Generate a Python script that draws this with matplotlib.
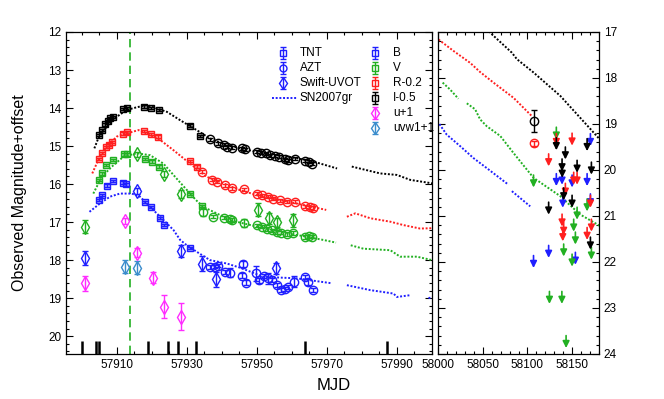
import numpy as np
import matplotlib.pyplot as plt
from matplotlib.colors import to_rgba
from matplotlib.ticker import MultipleLocator, FormatStrFormatter

plt.rcParams["font.family"] = ["Liberation Sans", "DejaVu Sans"]

cB, cV, cR, cI = "#1f1fff", "#22b022", "#ff1f1f", "#000000"
cu, cw = "#ff2cff", "#3a8ccc"

# ---- TNT (squares) ----
tnt_B_t = [57905.0, 57905.8, 57907.1, 57908.8, 57911.7, 57912.6, 57918.1, 57919.8, 57922.2, 57923.4, 57930.9]
tnt_B_m = [16.42, 16.29, 16.04, 15.92, 15.96, 16.01, 16.47, 16.60, 16.90, 17.08, 17.68]
tnt_V_t = [57905.0, 57905.8, 57906.9, 57908.8, 57912.2, 57912.8, 57918.1, 57920.1, 57922.0, 57930.9, 57934.3]
tnt_V_m = [15.90, 15.72, 15.50, 15.37, 15.22, 15.22, 15.34, 15.41, 15.54, 16.26, 16.58]
tnt_R_t = [57905.0, 57905.8, 57906.9, 57907.7, 57908.6, 57911.9, 57912.8, 57917.9, 57919.8, 57921.7, 57930.9, 57932.8]
tnt_R_m = [15.35, 15.19, 15.02, 14.96, 14.89, 14.67, 14.64, 14.61, 14.69, 14.75, 15.40, 15.54]
tnt_I_t = [57905.0, 57905.8, 57906.7, 57907.4, 57908.1, 57908.8, 57911.9, 57912.8, 57917.9, 57919.8, 57922.0, 57930.9, 57933.8]
tnt_I_m = [14.71, 14.58, 14.43, 14.34, 14.27, 14.23, 14.03, 14.01, 13.96, 13.99, 14.05, 14.46, 14.74]

# ---- AZT (circles) ----
azt_B_t = [57936.6, 57938.0, 57939.0, 57940.9, 57942.4, 57945.7, 57945.9, 57946.9, 57949.8, 57950.7, 57951.9,
           57953.3, 57954.3, 57955.7, 57956.8, 57957.9, 57959.0, 57960.5, 57963.8, 57964.7, 57966.0]
azt_B_m = [18.18, 18.17, 18.15, 18.31, 18.33, 18.41, 18.11, 18.59, 18.35, 18.53, 18.42,
           18.48, 18.53, 18.66, 18.79, 18.76, 18.70, 18.57, 18.44, 18.57, 18.79]
azt_B_e = [0.05, 0.04, 0.04, 0.05, 0.12, 0.06, 0.08, 0.06, 0.20, 0.06, 0.05,
           0.15, 0.05, 0.05, 0.06, 0.05, 0.05, 0.15, 0.05, 0.08, 0.05]
azt_V_t = [57934.7, 57937.6, 57940.5, 57942.4, 57942.8, 57946.2, 57950.0, 57951.4, 57952.8, 57954.3, 57955.7,
           57957.0, 57958.5, 57960.4, 57963.8, 57965.0, 57965.7]
azt_V_m = [16.73, 16.86, 16.88, 16.92, 16.95, 17.02, 17.08, 17.12, 17.19, 17.22, 17.26,
           17.28, 17.32, 17.29, 17.40, 17.37, 17.39]
azt_V_e = [0.10, 0.04, 0.05, 0.04, 0.05, 0.10, 0.04, 0.04, 0.05, 0.04, 0.05,
           0.04, 0.05, 0.05, 0.05, 0.04, 0.04]
azt_R_t = [57934.3, 57937.1, 57938.5, 57940.9, 57942.8, 57946.2, 57950.0, 57951.4, 57953.3, 57954.7, 57956.6,
           57958.5, 57960.9, 57963.8, 57965.2, 57966.0, 58106.8]
azt_R_m = [15.68, 15.88, 15.94, 16.03, 16.11, 16.14, 16.25, 16.29, 16.33, 16.38, 16.42,
           16.47, 16.47, 16.58, 16.61, 16.63, 19.42]
azt_R_e = [0.04] * 16 + [0.05]
azt_I_t = [57936.6, 57939.0, 57940.5, 57941.6, 57942.8, 57945.7, 57946.6, 57950.0, 57951.1, 57952.6, 57953.8,
           57955.2, 57956.2, 57958.1, 57959.0, 57960.9, 57963.8, 57965.0, 57965.7, 58106.8]
azt_I_m = [14.82, 14.93, 14.97, 15.02, 15.04, 15.06, 15.09, 15.15, 15.18, 15.19, 15.24,
           15.26, 15.28, 15.35, 15.37, 15.33, 15.39, 15.41, 15.46, 18.94]
azt_I_e = [0.04] * 19 + [0.24]

# ---- Swift-UVOT (diamonds) ----
uv_B_t = [57901.0, 57915.7, 57928.4, 57934.3, 57938.3, 57955.5]
uv_B_m = [17.94, 16.18, 17.76, 18.09, 18.50, 18.22]
uv_B_e = [0.19, 0.08, 0.15, 0.20, 0.20, 0.15]
uv_V_t = [57901.0, 57915.7, 57923.4, 57928.2, 57950.3, 57953.6, 57955.7, 57960.4]
uv_V_m = [17.12, 15.22, 15.74, 16.26, 16.68, 16.90, 17.00, 16.95]
uv_V_e = [0.17, 0.07, 0.08, 0.10, 0.17, 0.15, 0.12, 0.17]
uv_u_t = [57901.0, 57912.4, 57915.8, 57920.3, 57923.4, 57928.2]
uv_u_m = [18.61, 16.97, 17.81, 18.46, 19.23, 19.49]
uv_u_e = [0.20, 0.08, 0.12, 0.15, 0.30, 0.35]
uv_w_t = [57912.4, 57915.8]
uv_w_m = [18.18, 18.20]
uv_w_e = [0.17, 0.17]

# ---- SN2007gr templates (NaN = gap) ----
tpl_I_t = [57903.6, 57904.7, 57907.1, 57910.0, 57912.8, 57915.7, 57918.6, 57921.4, 57924.3, 57928.1, 57932.8,
           57936.6, 57941.4, 57945.2, 57951.9, 57961.4, 57966.2, 57972.9, np.nan, 57977.1, 57985.2, 57990.0,
           57993.8, 58000.0, 58056.4, 58082.6, 58088.2, 58106.8, 58136.8, 58177.9, 58182.0]
tpl_I_m = [15.06, 14.80, 14.49, 14.23, 14.05, 13.98, 13.92, 14.01, 14.10, 14.32, 14.58,
           14.80, 14.97, 15.06, 15.19, 15.32, 15.41, 15.59, np.nan, 15.54, 15.72, 15.76,
           15.89, 15.98, 16.98, 17.45, 17.59, 17.88, 18.39, 19.27, 19.36]
tpl_R_t = [57903.0, 57904.7, 57907.1, 57910.0, 57912.8, 57916.2, 57918.6, 57922.4, 57926.2, 57930.9, 57935.7,
           57940.4, 57945.2, 57950.0, 57956.6, 57963.3, 57969.8, np.nan, 57975.7, 57978.1, 57982.4, 57988.1,
           57991.9, 57996.6, 58000.4, 58017.2, 58035.9, 58047.1, 58062.0, 58084.4, 58105.0]
tpl_R_m = [15.72, 15.37, 15.02, 14.75, 14.67, 14.58, 14.67, 14.84, 15.11, 15.46, 15.81,
           15.98, 16.16, 16.29, 16.42, 16.55, 16.68, np.nan, 16.86, 16.77, 16.90, 16.99,
           17.08, 17.17, 17.16, 17.41, 17.67, 17.87, 18.10, 18.43, 18.83]
tpl_V_t = [57903.3, 57905.7, 57908.6, 57911.9, 57915.7, 57919.5, 57923.3, 57927.9, 57932.6, 57934.7, 57938.5,
           57942.4, 57950.0, 57956.6, 57964.3, 57969.0, 57972.6, np.nan, 57976.8, 57980.4, 57988.1, 57990.9,
           57995.7, 58000.0, np.nan, 58005.2, 58013.5, 58022.8, np.nan, 58032.2, 58041.5, 58047.1, 58054.6,
           58069.6, 58084.4, 58106.8, 58136.8, 58140.5, 58159.2, 58180.5]
tpl_V_m = [16.25, 15.81, 15.54, 15.28, 15.19, 15.24, 15.46, 15.94, 16.42, 16.60, 16.77,
           16.95, 17.12, 17.25, 17.39, 17.47, 17.54, np.nan, 17.61, 17.70, 17.74, 17.91,
           17.91, 18.00, np.nan, 18.10, 18.25, 18.45, np.nan, 18.55, 18.68, 18.90, 19.05,
           19.26, 19.63, 20.17, 20.57, 20.64, 20.97, 21.21]
tpl_B_t = [57902.2, 57905.2, 57908.1, 57910.9, 57914.3, 57916.6, 57919.5, 57922.4, 57926.2, 57928.1, 57930.0,
           57932.8, 57936.6, 57941.4, 57945.2, 57951.9, 57961.4, 57971.4, np.nan, 57975.7, 57982.4, 57989.0,
           57990.0, 57994.0, np.nan, 57999.0, 58000.4, 58009.7, 58024.7, 58039.6, 58054.6, 58078.8, np.nan,
           58082.6, 58103.1]
tpl_B_m = [16.73, 16.51, 16.33, 16.25, 16.25, 16.33, 16.60, 16.86, 17.21, 17.47, 17.61,
           17.78, 18.00, 18.09, 18.20, 18.44, 18.48, 18.61, np.nan, 18.66, 18.79, 18.88,
           18.97, 18.92, np.nan, 19.00, 18.97, 19.23, 19.48, 19.74, 19.96, 20.32, np.nan,
           20.46, 20.79]

# ---- upper limits (right panel) ----
lim_B_t = [58170.4, 58132.3, 58138.7, 58149.9, 58166.7, 58139.5, 58170.4, 58123.7, 58153.6, 58106.8]
lim_B_m = [19.21, 20.08, 20.05, 20.11, 20.08, 20.55, 20.52, 21.64, 21.79, 21.86]
lim_V_t = [58132.3, 58106.8, 58166.7, 58155.5, 58151.7, 58153.6, 58140.5, 58171.5, 58149.9, 58124.6, 58138.5, 58143.2]
lim_V_m = [19.07, 20.11, 20.63, 20.81, 21.07, 21.35, 21.61, 21.68, 21.83, 22.64, 22.64, 23.60]
lim_R_t = [58132.3, 58149.9, 58123.7, 58151.7, 58155.5, 58142.4, 58170.4, 58138.7, 58171.5, 58140.5, 58139.5, 58166.7]
lim_R_m = [19.21, 19.20, 19.65, 20.05, 20.05, 20.29, 20.55, 20.96, 21.07, 21.14, 21.28, 21.25]
lim_I_t = [58132.3, 58166.7, 58142.4, 58138.7, 58155.5, 58171.5, 58138.9, 58140.5, 58149.9, 58123.7, 58170.4]
lim_I_m = [19.30, 19.32, 19.50, 19.76, 19.79, 19.83, 19.90, 20.39, 20.55, 20.70, 21.46]

spec_t = [57900.2, 57904.1, 57905.0, 57919.0, 57924.7, 57927.6, 57932.6, 57963.8, 57987.1]
peak_t = 57913.9

fig = plt.figure(figsize=(6.64, 3.99), dpi=100)
ax1 = fig.add_axes([66/664, 45/399, 366/664, 322/399])
ax2 = fig.add_axes([438/664, 45/399, 161/664, 322/399])


def pts(ax, t, m, e, c, mk, fill=False, ms=5.5):
    ax.errorbar(t, m, yerr=e, fmt=mk, color=c, mec=c,
                mfc=to_rgba(c, 0.35) if fill else "none",
                ms=ms, mew=1.0, elinewidth=1.0, capsize=2.0, capthick=1.0, zorder=3)


for ax in (ax1, ax2):
    for t, m, c in ((tpl_I_t, tpl_I_m, cI), (tpl_R_t, tpl_R_m, cR),
                    (tpl_V_t, tpl_V_m, cV), (tpl_B_t, tpl_B_m, cB)):
        ax.plot(t, m, color=c, ls=(0, (1, 0.9)), lw=1.4, zorder=2)
    for t, m, c in ((tnt_B_t, tnt_B_m, cB), (tnt_V_t, tnt_V_m, cV),
                    (tnt_R_t, tnt_R_m, cR), (tnt_I_t, tnt_I_m, cI)):
        pts(ax, t, m, 0.03, c, "s", fill=True, ms=5)
    for t, m, e, c in ((azt_B_t, azt_B_m, azt_B_e, cB), (azt_V_t, azt_V_m, azt_V_e, cV),
                       (azt_R_t, azt_R_m, azt_R_e, cR), (azt_I_t, azt_I_m, azt_I_e, cI)):
        pts(ax, t, m, e, c, "o", ms=6)
    for t, m, e, c in ((uv_B_t, uv_B_m, uv_B_e, cB), (uv_V_t, uv_V_m, uv_V_e, cV),
                       (uv_u_t, uv_u_m, uv_u_e, cu), (uv_w_t, uv_w_m, uv_w_e, cw)):
        pts(ax, t, m, e, c, "d", ms=7)

for t, m, c in ((lim_B_t, lim_B_m, cB), (lim_V_t, lim_V_m, cV),
                (lim_R_t, lim_R_m, cR), (lim_I_t, lim_I_m, cI)):
    for ti, mi in zip(t, m):
        ax2.annotate("", xy=(ti, mi + 0.27), xytext=(ti, mi),
                     arrowprops=dict(arrowstyle="-|>", color=c, lw=1.2,
                                     mutation_scale=10, shrinkA=0, shrinkB=0))

ax1.axvline(peak_t, color=cV, ls=(0, (5, 3)), lw=1.2, zorder=1)
ax1.vlines(spec_t, 20.12, 20.47, color="k", lw=1.8)

ax1.set_xlim(57895.5, 58000)
ax1.set_ylim(20.47, 12)
ax2.set_xlim(58000, 58180)
ax2.set_ylim(24, 17)

ax1.set_xticks(np.arange(57910, 58000, 20))
ax1.xaxis.set_minor_locator(MultipleLocator(5))
ax1.yaxis.set_major_locator(MultipleLocator(1))
ax1.yaxis.set_minor_locator(MultipleLocator(0.2))
ax2.set_xticks([58000, 58050, 58100, 58150])
ax2.xaxis.set_minor_locator(MultipleLocator(10))
ax2.yaxis.set_major_locator(MultipleLocator(1))
ax2.yaxis.set_minor_locator(MultipleLocator(0.2))
for ax in (ax1, ax2):
    ax.xaxis.set_major_formatter(FormatStrFormatter("%d"))
    ax.yaxis.set_major_formatter(FormatStrFormatter("%d"))
    ax.tick_params(which="both", direction="in", top=True, right=True, labelsize=8.5, width=0.8)
    ax.tick_params(which="major", length=5)
    ax.tick_params(which="minor", length=2.5)
    for s in ax.spines.values():
        s.set_linewidth(0.9)
ax2.tick_params(axis="y", labelleft=False, labelright=True)

# legend (drawn by hand, axes fraction)
tr = ax1.transAxes
for i, (mk, lab) in enumerate((("s", "TNT"), ("o", "AZT"), ("d", "Swift-UVOT"))):
    y = 0.935 - i * 0.0466
    ax1.errorbar([0.593], [y], yerr=[0.018], fmt=mk, color=cB, mec=cB, mfc="none",
                 ms=5 if mk != "d" else 6.5, mew=1.0, elinewidth=1.0, capsize=2.0,
                 transform=tr, clip_on=False)
    ax1.text(0.639, y, lab, transform=tr, fontsize=8.5, va="center")
y = 0.935 - 3 * 0.0466
ax1.plot([0.562, 0.631], [y, y], color=cB, ls=(0, (1, 0.9)), lw=1.4, transform=tr)
ax1.text(0.639, y, "SN2007gr", transform=tr, fontsize=8.5, va="center")
for i, (mk, c, lab) in enumerate((("s", cB, "B"), ("s", cV, "V"), ("s", cR, "R-0.2"),
                                  ("s", cI, "I-0.5"), ("d", cu, "u+1"), ("d", cw, "uvw1+1"))):
    y = 0.935 - i * 0.0466
    ax1.errorbar([0.844], [y], yerr=[0.018], fmt=mk, color=c, mec=c, mfc="none",
                 ms=4.5 if mk == "s" else 6.5, mew=1.0, elinewidth=1.0, capsize=2.0,
                 transform=tr, clip_on=False)
    ax1.text(0.893, y, lab, transform=tr, fontsize=8.5, va="center", clip_on=False)

fig.text(0.503, 0.035, "MJD", ha="center", va="center", fontsize=12)
fig.text(0.03, 0.516, "Observed Magnitude+offset", ha="center", va="center",
         rotation=90, fontsize=11.5)

plt.savefig("out.png", dpi=100)
